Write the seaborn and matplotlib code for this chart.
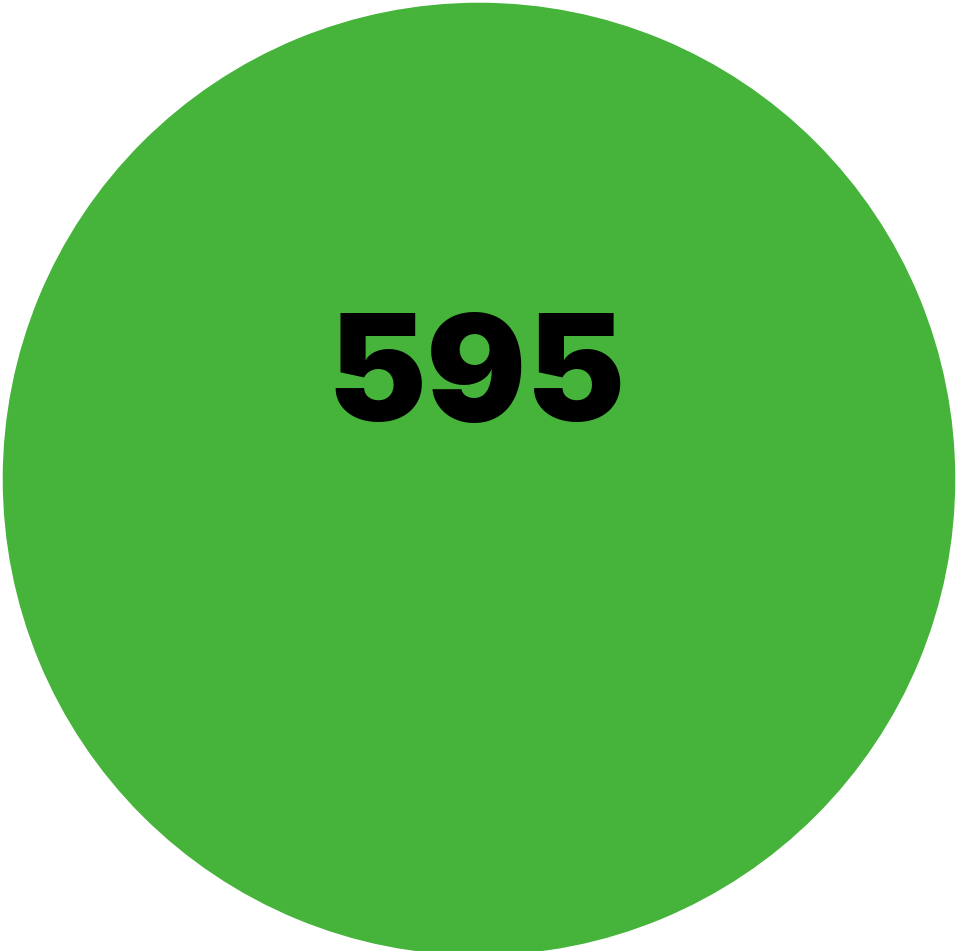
import matplotlib
matplotlib.use('Agg')
import matplotlib.pyplot as plt
import seaborn as sns

# Data
values = [595]
labels = ['595']
colors = ['#46b43b']

sns.set_theme(style='white')

fig = plt.figure(figsize=(9.58, 9.51), dpi=100)
ax = fig.add_axes([0, 0, 1, 1])

# single-slice pie = the circle
ax.pie(values, colors=colors, radius=1, center=(0, 0), startangle=90)
ax.set_aspect('auto')
r = 477
ax.set_xlim(-479 / r, (958 - 479) / r)
ax.set_ylim(-(951 - 479) / r, 479 / r)
ax.axis('off')

ax.text(-2 / r, (479 - 367) / r, labels[0], ha='center', va='center_baseline',
        fontsize=107, fontweight='black', family=['Inter', 'DejaVu Sans'],
        color='black')

fig.savefig('out.png', dpi=100)
